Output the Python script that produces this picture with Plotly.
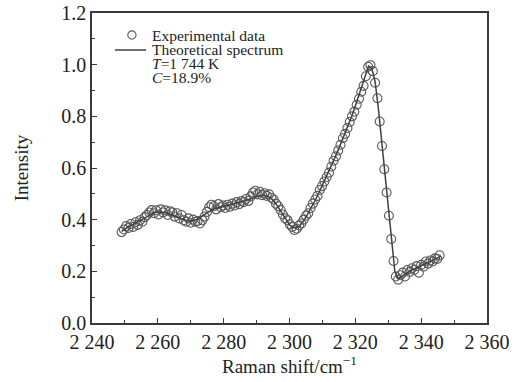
import plotly.graph_objects as go

# ---------------- data ----------------
exp_x = [2249.0, 2249.7, 2250.4, 2251.1, 2251.8, 2252.5, 2253.2, 2253.9, 2254.6, 2255.3,
         2256.0, 2256.7, 2257.4, 2258.1, 2258.8, 2259.5, 2260.2, 2260.9, 2261.6, 2262.3,
         2263.0, 2263.7, 2264.4, 2265.1, 2265.8, 2266.5, 2267.2, 2267.9, 2268.6, 2269.3,
         2270.0, 2270.7, 2271.4, 2272.1, 2272.8, 2273.5, 2274.2, 2274.9, 2275.6, 2276.3,
         2277.0, 2277.7, 2278.4, 2279.1, 2279.8, 2280.5, 2281.2, 2281.9, 2282.6, 2283.3,
         2284.0, 2284.7, 2285.4, 2286.1, 2286.8, 2287.5, 2288.2, 2288.9, 2289.6, 2290.3,
         2291.0, 2291.7, 2292.4, 2293.1, 2293.8, 2294.5, 2295.2, 2295.9, 2296.6, 2297.3,
         2298.0, 2298.7, 2299.4, 2300.1, 2300.8, 2301.5, 2302.2, 2302.9, 2303.6, 2304.3,
         2305.0, 2305.7, 2306.4, 2307.1, 2307.8, 2308.5, 2309.2, 2309.9, 2310.6, 2311.3,
         2312.0, 2312.7, 2313.4, 2314.1, 2314.8, 2315.5, 2316.2, 2316.9, 2317.6, 2318.3,
         2319.0, 2319.7, 2320.4, 2321.1, 2321.8, 2322.5, 2323.2, 2323.9, 2324.6, 2325.3,
         2326.0, 2326.7, 2327.4, 2328.1, 2328.8, 2329.5, 2330.2, 2330.9, 2331.6, 2332.3,
         2333.0, 2333.7, 2334.4, 2335.1, 2335.8, 2336.5, 2337.2, 2337.9, 2338.6, 2339.3,
         2340.0, 2340.7, 2341.4, 2342.1, 2342.8, 2343.5, 2344.2, 2344.9, 2345.6]

exp_y = [0.352, 0.362, 0.375, 0.368, 0.383, 0.372, 0.390, 0.380, 0.398, 0.392,
         0.410, 0.418, 0.428, 0.437, 0.425, 0.436, 0.420, 0.440, 0.428, 0.436,
         0.418, 0.432, 0.428, 0.412, 0.425, 0.405, 0.418, 0.398, 0.392, 0.405,
         0.388, 0.400, 0.392, 0.395, 0.385, 0.398, 0.412, 0.430, 0.448, 0.458,
         0.452, 0.440, 0.460, 0.448, 0.455, 0.445, 0.458, 0.450, 0.462, 0.455,
         0.468, 0.460, 0.472, 0.468, 0.480, 0.472, 0.490, 0.505, 0.512, 0.498,
         0.508, 0.495, 0.502, 0.492, 0.498, 0.485, 0.478, 0.462, 0.452, 0.438,
         0.420, 0.405, 0.398, 0.382, 0.372, 0.360, 0.365, 0.378, 0.385, 0.400,
         0.415, 0.425, 0.445, 0.462, 0.478, 0.492, 0.515, 0.530, 0.548, 0.565,
         0.582, 0.605, 0.628, 0.645, 0.668, 0.690, 0.715, 0.732, 0.755, 0.778,
         0.800, 0.818, 0.845, 0.868, 0.895, 0.918, 0.955, 0.992, 0.998, 0.975,
         0.930, 0.870, 0.780, 0.685, 0.595, 0.505, 0.415, 0.325, 0.240, 0.180,
         0.168, 0.185, 0.195, 0.180, 0.205, 0.198, 0.212, 0.205, 0.220, 0.195,
         0.225, 0.218, 0.238, 0.230, 0.242, 0.238, 0.250, 0.248, 0.262]

theo_x = [2249, 2250, 2251, 2252, 2253, 2254, 2255, 2256, 2257, 2258,
          2259, 2260, 2261, 2262, 2263, 2264, 2265, 2266, 2267, 2268,
          2269, 2270, 2271, 2272, 2273, 2274, 2275, 2276, 2277, 2278,
          2279, 2280, 2281, 2282, 2283, 2284, 2285, 2286, 2287, 2288,
          2289, 2290, 2291, 2292, 2293, 2294, 2295, 2296, 2297, 2298,
          2299, 2300, 2301, 2302, 2303, 2304, 2305, 2306, 2307, 2308,
          2309, 2310, 2311, 2312, 2313, 2314, 2315, 2316, 2317, 2318,
          2319, 2320, 2321, 2322, 2323, 2324, 2325, 2326, 2327, 2328,
          2329, 2330, 2331, 2332, 2333, 2334, 2335, 2336, 2337, 2338,
          2339, 2340, 2341, 2342, 2343, 2344, 2345, 2346]

theo_y = [0.355, 0.365, 0.372, 0.378, 0.385, 0.392, 0.400, 0.408, 0.416, 0.423,
          0.428, 0.430, 0.430, 0.428, 0.425, 0.421, 0.416, 0.410, 0.404, 0.399,
          0.396, 0.395, 0.397, 0.402, 0.409, 0.418, 0.427, 0.435, 0.441, 0.445,
          0.448, 0.451, 0.454, 0.457, 0.460, 0.463, 0.467, 0.471, 0.476, 0.481,
          0.486, 0.490, 0.493, 0.494, 0.492, 0.486, 0.475, 0.459, 0.440, 0.418,
          0.397, 0.380, 0.370, 0.368, 0.375, 0.390, 0.410, 0.432, 0.455, 0.480,
          0.506, 0.533, 0.560, 0.588, 0.617, 0.646, 0.676, 0.707, 0.738, 0.770,
          0.803, 0.840, 0.878, 0.915, 0.958, 0.995, 0.985, 0.935, 0.830, 0.700,
          0.570, 0.440, 0.310, 0.200, 0.172, 0.180, 0.190, 0.198, 0.204, 0.210,
          0.216, 0.222, 0.228, 0.234, 0.240, 0.246, 0.252, 0.258]

x_tickvals = [2240, 2260, 2280, 2300, 2320, 2340, 2360]
x_ticktext = ["2 240", "2 260", "2 280", "2 300", "2 320", "2 340", "2 360"]
y_tickvals = [0.0, 0.2, 0.4, 0.6, 0.8, 1.0, 1.2]
y_ticktext = ["0.0", "0.2", "0.4", "0.6", "0.8", "1.0", "1.2"]

legend_labels = ["Experimental data", "Theoretical spectrum"]
param_labels = ["<i>T</i>=1 744 K", "<i>C</i>=18.9%"]

FONT = "Liberation Serif, Times New Roman, serif"
AX = "#3a3a3a"
MK = "#5a5a5a"
LN = "#404040"
TXT = "#222"
LEG_SIZE = 15.5

fig = go.Figure()
fig.add_trace(go.Scatter(
    x=exp_x, y=exp_y, mode="markers", name=legend_labels[0],
    marker=dict(symbol="circle-open", size=9, color=MK, line=dict(width=1.1, color=MK)),
))
fig.add_trace(go.Scatter(
    x=theo_x, y=theo_y, mode="lines", name=legend_labels[1],
    line=dict(color=LN, width=1.5),
))

axis_common = dict(
    showline=True, linecolor=AX, linewidth=1.5, mirror=True,
    ticks="inside", ticklen=5, tickwidth=1.2, tickcolor=AX,
    showgrid=False, zeroline=False, automargin=False,
    tickfont=dict(family=FONT, size=20, color=TXT),
)

# legend block laid out in paper coordinates (rows ~15 px apart as in the reference)
row_y = [0.929, 0.881, 0.837, 0.792]
text_x = 0.147
annotations = []
for lbl, yy in zip(legend_labels + param_labels, row_y):
    annotations.append(dict(text=lbl, xref="paper", yref="paper", x=text_x, y=yy,
                            xanchor="left", yanchor="middle", showarrow=False,
                            font=dict(family=FONT, size=LEG_SIZE, color=TXT)))

shapes = [
    # legend key: open circle
    dict(type="circle", xref="paper", yref="paper",
         x0=0.101 - 0.0105, x1=0.101 + 0.0105, y0=row_y[0] - 0.0135, y1=row_y[0] + 0.0135,
         line=dict(color=MK, width=1.1), fillcolor="rgba(0,0,0,0)"),
    # legend key: line
    dict(type="line", xref="paper", yref="paper",
         x0=0.058, x1=0.137, y0=row_y[1], y1=row_y[1],
         line=dict(color=LN, width=1.5)),
]

fig.update_layout(
    width=523, height=382,
    margin=dict(l=92, r=36, t=13, b=59),
    paper_bgcolor="white", plot_bgcolor="white",
    font=dict(family=FONT, color=TXT),
    xaxis=dict(range=[2240, 2360], tickvals=x_tickvals, ticktext=x_ticktext,
               minor=dict(ticks="inside", ticklen=3, tickcolor=AX, dtick=10, tick0=2240),
               title=dict(text="Raman shift/cm<sup>−1</sup>", font=dict(family=FONT, size=19), standoff=2),
               **axis_common),
    yaxis=dict(range=[0, 1.2], tickvals=y_tickvals, ticktext=y_ticktext,
               minor=dict(ticks="inside", ticklen=3, tickcolor=AX, dtick=0.1, tick0=0),
               title=dict(text="Intensity", font=dict(family=FONT, size=19), standoff=28),
               **axis_common),
    showlegend=False,
    annotations=annotations,
    shapes=shapes,
)

fig.write_html("out.html")
